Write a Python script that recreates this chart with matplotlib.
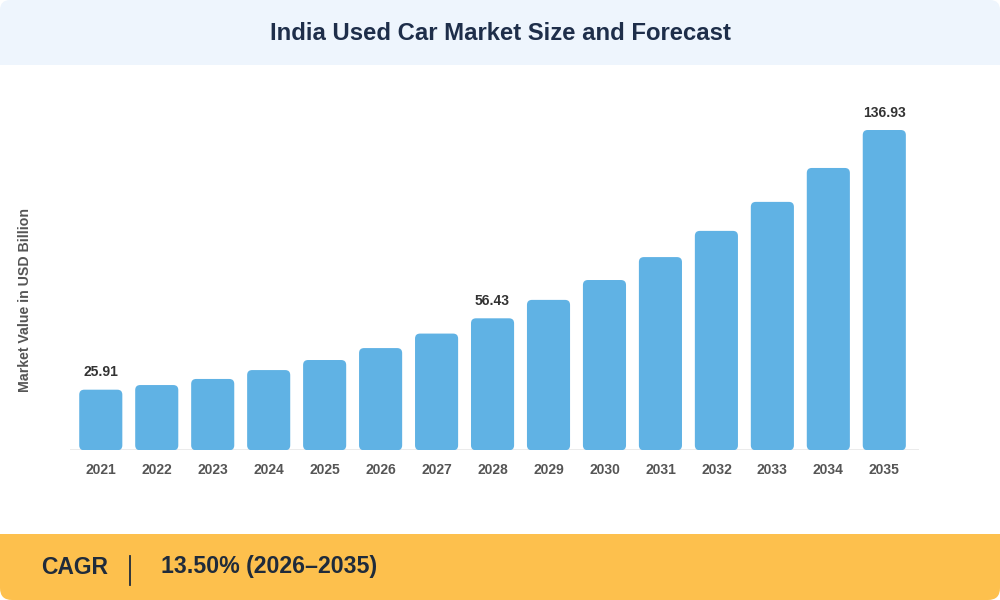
import matplotlib
matplotlib.use("Agg")
import matplotlib.pyplot as plt
from matplotlib.patches import FancyBboxPatch, Rectangle
from matplotlib.lines import Line2D

years = ["2021", "2022", "2023", "2024", "2025", "2026", "2027", "2028",
         "2029", "2030", "2031", "2032", "2033", "2034", "2035"]
values = [25.91, 27.9, 30.5, 34.3, 38.6, 43.7, 49.9, 56.43,
          64.3, 72.8, 82.6, 93.8, 106.2, 120.7, 136.93]
labelled_years = ["2021", "2028", "2035"]

title = "India Used Car Market Size and Forecast"
y_label = "Market Value in USD Billion"
cagr_label = "CAGR"
cagr_value = "13.50% (2026\u20132035)"

BAR = "#60B2E4"
NAVY = "#1E2E4A"
GREY = "#555555"
FONT = ["Liberation Sans", "DejaVu Sans"]
plt.rcParams["font.family"] = FONT

W, H = 1000, 600
fig = plt.figure(figsize=(10, 6), dpi=100)
fig.patch.set_facecolor("white")

def fx(px):
    return px / W

def fy(py):
    return 1 - py / H

# header band
hdr = FancyBboxPatch((0, fy(65)), 1, 65 / H, boxstyle="round,pad=0,rounding_size=0.010",
                     mutation_aspect=W / H, transform=fig.transFigure,
                     facecolor="#EEF5FD", edgecolor="none", zorder=0)
fig.patches.append(hdr)
fig.patches.append(Rectangle((0, fy(65)), 1, 30 / H, transform=fig.transFigure,
                             facecolor="#EEF5FD", edgecolor="none", zorder=0))
fig.text(0.5, fy(33), title, ha="center", va="center", fontsize=17.2,
         fontweight="bold", color=NAVY)

# footer band
ftr = FancyBboxPatch((0, 0), 1, 66 / H, boxstyle="round,pad=0,rounding_size=0.012",
                     mutation_aspect=W / H, transform=fig.transFigure,
                     facecolor="#FDC04D", edgecolor="none", zorder=0)
fig.patches.append(ftr)
fig.patches.append(Rectangle((0, fy(566)), 1, 32 / H, transform=fig.transFigure,
                             facecolor="#FDC04D", edgecolor="none", zorder=0))
fig.text(fx(41), fy(567), cagr_label, ha="left", va="center", fontsize=16.5,
         fontweight="bold", color="#1F2B3B")
fig.lines.append(Line2D([fx(130), fx(130)], [fy(556), fy(585)], transform=fig.transFigure,
                        color="#1F2B3B", linewidth=1.3))
fig.text(fx(161), fy(567), cagr_value, ha="left", va="center", fontsize=16.7,
         fontweight="bold", color="#1F2B3B")

# chart axes
ax_left, ax_right = 70, 919
ax_bottom = 450.3
ymax = 150
px_per_unit = (ax_bottom - 130) / values[-1]
ax_top = ax_bottom - ymax * px_per_unit
ax = fig.add_axes([fx(ax_left), fy(ax_bottom), (ax_right - ax_left) / W,
                   (ax_bottom - ax_top) / H])
ax.set_facecolor("none")
x = list(range(len(years)))
bars = ax.bar(x, values, width=0.77, color=BAR, zorder=2)
ax.set_xlim(-0.55, len(years) - 1 + 0.62)
ax.set_ylim(0, ymax)

# round the bar corners
fig.canvas.draw()
bbox = ax.get_window_extent()
px_x = bbox.width / (ax.get_xlim()[1] - ax.get_xlim()[0])
px_y = bbox.height / (ax.get_ylim()[1] - ax.get_ylim()[0])
r_px = 5
for b in bars:
    bx, by = b.get_x(), b.get_y()
    bw, bh = b.get_width(), b.get_height()
    b.set_visible(False)
    p = FancyBboxPatch((bx, by), bw, bh,
                       boxstyle=f"round,pad=0,rounding_size={r_px / px_x}",
                       mutation_aspect=px_x / px_y,
                       facecolor=BAR, edgecolor="none", zorder=2)
    ax.add_patch(p)

ax.axhline(0, color="#E9E9E9", linewidth=2, zorder=1)

for i, (yr, v) in enumerate(zip(years, values)):
    if yr in labelled_years:
        ax.annotate(f"{v:.2f}", (i, v), xytext=(0, 12.5), textcoords="offset points",
                    ha="center", va="center", fontsize=10, fontweight="bold",
                    color="#333333")

ax.set_xticks(x)
ax.set_xticklabels(years, fontsize=10, fontweight="bold", color=GREY)
ax.tick_params(axis="x", length=0, pad=9)
ax.set_yticks([])
for s in ax.spines.values():
    s.set_visible(False)

fig.text(fx(25), fy(300), y_label, rotation=90, ha="center", va="center",
         fontsize=10.2, fontweight="bold", color=GREY)

fig.savefig("out.png", dpi=100, facecolor="white")
